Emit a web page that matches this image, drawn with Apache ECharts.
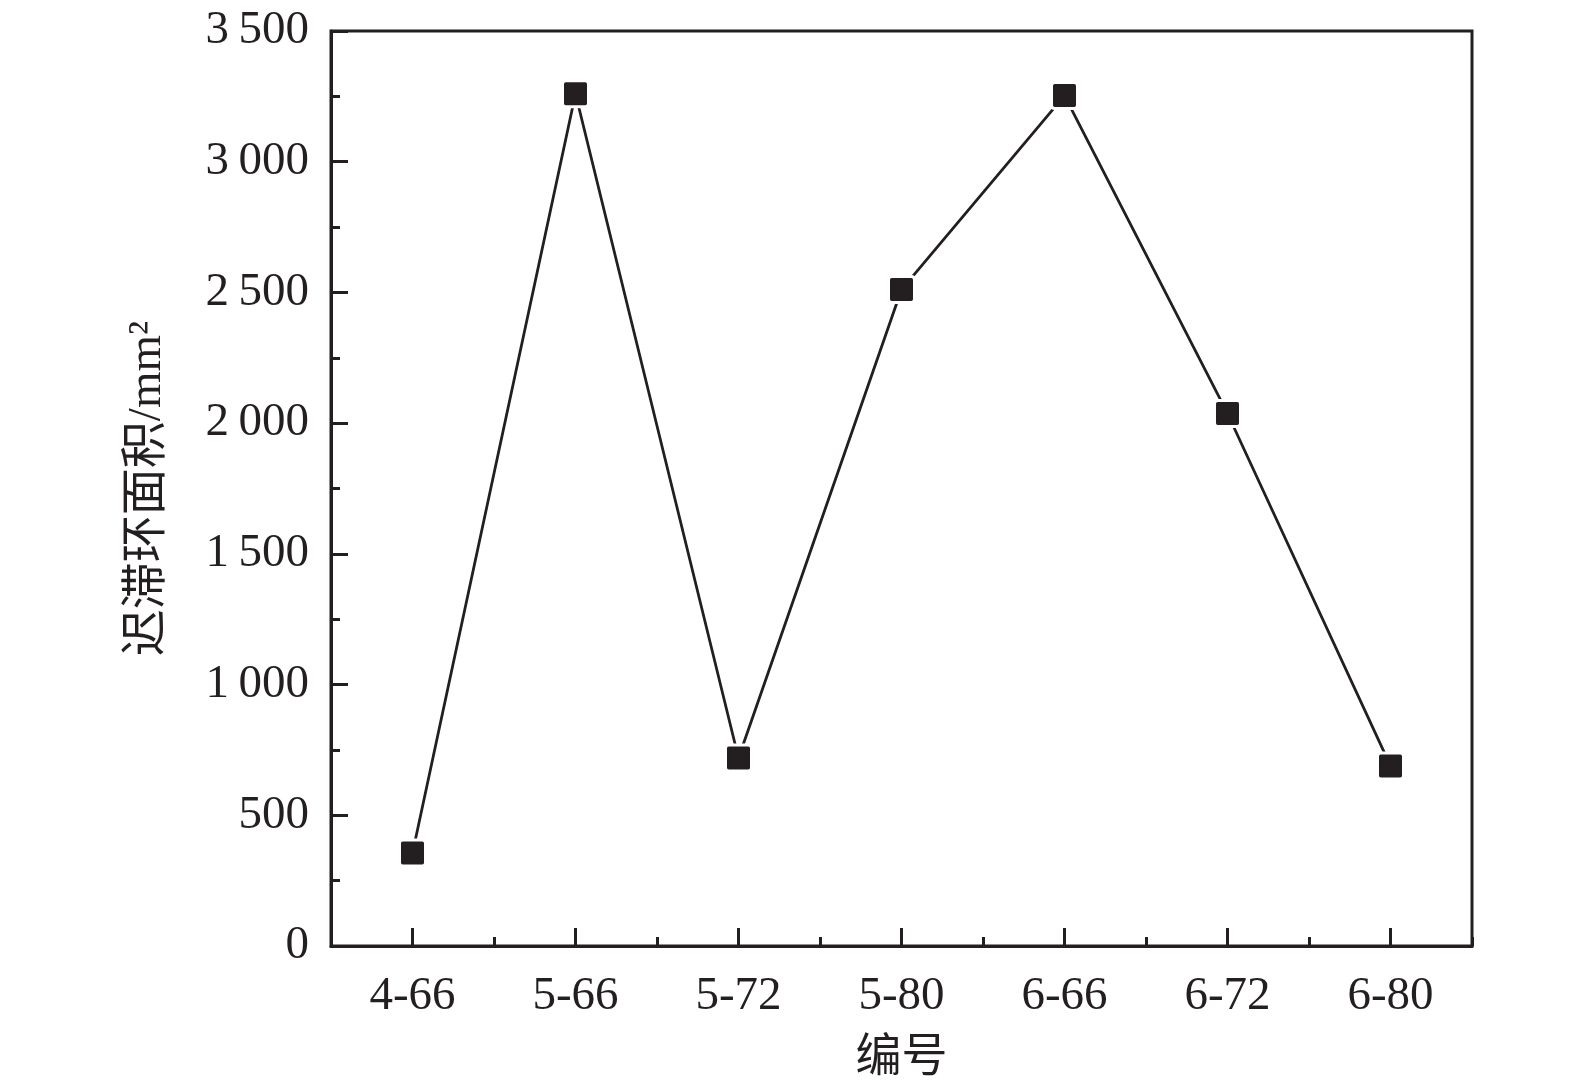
<!DOCTYPE html>
<html>
<head>
<meta charset="utf-8">
<script src="https://cdn.jsdelivr.net/npm/echarts@6/dist/echarts.min.js"></script>
<style>
html,body{margin:0;padding:0;background:#fff;}
#chart{width:1575px;height:1087px;}
</style>
</head>
<body>
<div id="chart"></div>
<script>
const categories = ['4-66', '5-66', '5-72', '5-80', '6-66', '6-72', '6-80'];
const hysteresisArea = [356, 3260, 719, 2511, 3253, 2037, 689];
const yMin = 0;
const yMax = 3500;
const yStep = 500;
const xTitle = '编号';
const yTitle = '迟滞环面积/mm²';

const INK = '#231f20';
const FONT = '"Liberation Serif", "Noto Sans CJK SC", serif';

function fmt(v) {
  if (v >= 1000) {
    return Math.floor(v / 1000) + '\u2009' + String(v % 1000).padStart(3, '0');
  }
  return String(v);
}

const chart = echarts.init(document.getElementById('chart'), null, {renderer: 'canvas'});
chart.setOption({
  animation: false,
  backgroundColor: '#fff',
  grid: {
    left: 331, top: 31, right: 103, bottom: 136,
    show: true, borderColor: INK, borderWidth: 3, backgroundColor: 'transparent'
  },
  xAxis: [
    {
      type: 'category',
      data: categories,
      boundaryGap: true,
      name: xTitle,
      nameLocation: 'middle',
      nameGap: 90,
      nameTextStyle: {fontFamily: FONT, fontSize: 46, color: INK},
      axisLine: {show: true, lineStyle: {color: INK, width: 3}},
      axisTick: {show: true, inside: true, alignWithLabel: true, length: 18, lineStyle: {color: INK, width: 3}},
      axisLabel: {show: true, fontFamily: FONT, fontSize: 47, color: INK, margin: 27},
      splitLine: {show: false}
    },
    {
      type: 'category',
      data: categories,
      boundaryGap: true,
      position: 'bottom',
      offset: 0,
      axisLine: {show: false},
      axisTick: {show: true, inside: true, alignWithLabel: false, length: 9, lineStyle: {color: INK, width: 3}},
      axisLabel: {show: false},
      splitLine: {show: false}
    }
  ],
  yAxis: {
    type: 'value',
    min: yMin,
    max: yMax,
    interval: yStep,
    name: yTitle,
    nameLocation: 'middle',
    nameGap: 160,
    nameRotate: 90,
    nameTextStyle: {fontFamily: FONT, fontSize: 47, color: INK},
    axisLine: {show: true, lineStyle: {color: INK, width: 3}},
    axisTick: {show: true, inside: true, length: 17, lineStyle: {color: INK, width: 3}},
    minorTick: {show: true, splitNumber: 2, length: 9, lineStyle: {color: INK, width: 3}},
    axisLabel: {fontFamily: FONT, fontSize: 47, color: INK, margin: 22, formatter: fmt},
    splitLine: {show: false},
    minorSplitLine: {show: false}
  },
  series: [{
    type: 'line',
    xAxisIndex: 0,
    data: hysteresisArea,
    symbol: 'path://M3,0H21Q24,0,24,3V21Q24,24,21,24H3Q0,24,0,21V3Q0,0,3,0Z',
    symbolSize: 26,
    showAllSymbol: true,
    lineStyle: {color: INK, width: 2.8},
    itemStyle: {color: INK, borderColor: '#ffffff', borderWidth: 3},
    emphasis: {disabled: true},
    silent: true,
    z: 3
  }]
});
</script>
</body>
</html>
